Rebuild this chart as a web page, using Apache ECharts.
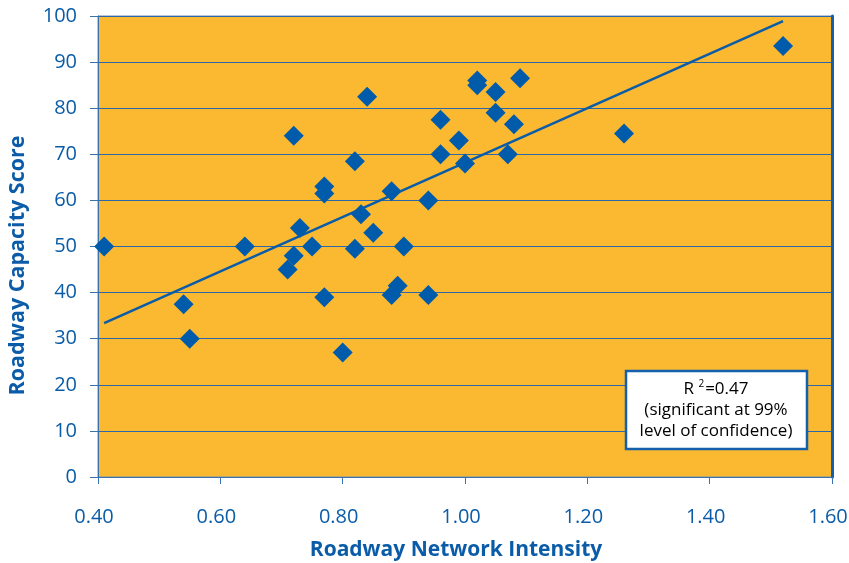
<!DOCTYPE html>
<html><head><meta charset="utf-8">
<script src="https://cdn.jsdelivr.net/npm/echarts@6/dist/echarts.min.js"></script>
<style>html,body{margin:0;padding:0;background:#fff;overflow:hidden}#c{width:849px;height:563px}</style>
</head><body><div id="c"></div>
<script>
// Data
const intensity = [0.41,0.54,0.55,0.64,0.71,0.72,0.72,0.73,0.75,0.77,0.77,0.77,0.80,0.82,0.82,0.83,0.84,0.85,0.88,0.88,0.89,0.90,0.94,0.94,0.96,0.96,0.99,1.00,1.02,1.02,1.05,1.05,1.07,1.08,1.09,1.26,1.52];
const capacity  = [50,37.5,30,50,45,48,74,54,50,63,61.5,39,27,68.5,49.5,57,82.5,53,62,39.5,41.5,50,60,39.5,77.5,70,73,68,86,85,83.5,79,70,76.5,86.5,74.5,93.5];
const trendX = [0.41, 1.52];
const trendY = [33.4, 98.9];
const xTicks = [0.40,0.60,0.80,1.00,1.20,1.40,1.60];
const yTicks = [0,10,20,30,40,50,60,70,80,90,100];

const blue = '#0a5ca8';
const font = '"Open Sans", "Noto Sans", sans-serif';
const chart = echarts.init(document.getElementById('c'), null, {renderer:'canvas'});
chart.setOption({
  animation:false,
  backgroundColor:'#ffffff',
  grid:{left:98,right:17,top:16,bottom:86,containLabel:false,outerBoundsMode:'none',
    show:true,backgroundColor:'#FBB931',borderColor:'#6f8fb0',borderWidth:1},
  xAxis:{type:'value',min:xTicks[0],max:xTicks[xTicks.length-1],interval:0.2,
    name:'Roadway Network Intensity',nameLocation:'middle',nameGap:63,
    nameTextStyle:{color:blue,fontFamily:font,fontWeight:'bold',fontSize:21,padding:[0,18,0,0]},
    axisLine:{show:true,lineStyle:{color:'#3a72ad',width:1}},
    axisTick:{show:true,length:7,lineStyle:{color:'#3a72ad'}},
    axisLabel:{color:blue,fontFamily:font,fontSize:20,margin:30,padding:[0,8,0,0],formatter:v=>v.toFixed(2)},
    splitLine:{show:false}},
  yAxis:[{type:'value',min:yTicks[0],max:yTicks[yTicks.length-1],interval:10,
    name:'Roadway Capacity Score',nameLocation:'middle',nameGap:69,nameRotate:90,
    nameTextStyle:{color:blue,fontFamily:font,fontWeight:'bold',fontSize:21.5,padding:[0,38,0,0]},
    axisLine:{show:true,lineStyle:{color:'#3a72ad',width:1}},
    axisTick:{show:true,length:8,lineStyle:{color:'#3a72ad'}},
    axisLabel:{color:blue,fontFamily:font,fontSize:20,margin:21},
    splitLine:{show:true,lineStyle:{color:'#2a68a8',width:1.2}}},
   {type:'value',position:'right',min:0,max:100,interval:10,
    axisLine:{show:true,lineStyle:{color:'#1560ad',width:3}},
    axisTick:{show:false},axisLabel:{show:false},splitLine:{show:false}}],
  series:[
    {type:'line',data:trendX.map((x,i)=>[x,trendY[i]]),symbol:'none',
     lineStyle:{color:blue,width:2.5},z:2},
    {type:'scatter',data:intensity.map((x,i)=>[x,capacity[i]]),symbol:'diamond',symbolSize:20,
     itemStyle:{color:'#005BAA',opacity:1},z:3}
  ],
  graphic:[
    {type:'rect',z:100,shape:{x:626,y:371,width:181,height:78},style:{fill:'#fff',stroke:'#1560ad',lineWidth:2.5}},
    {type:'text',z:101,x:716,y:379,style:{
      text:'{r|R }{s|2}{r|=0.47}\n{r|(significant at 99%}\n{r|level of confidence)}',
      align:'center',verticalAlign:'top',
      rich:{r:{fontFamily:font,fontSize:17,color:blue,lineHeight:21},
            s:{fontFamily:font,fontSize:10,color:blue,lineHeight:21,verticalAlign:'top',padding:[0,1,6,0]}}}}
  ]
});
</script></body></html>
